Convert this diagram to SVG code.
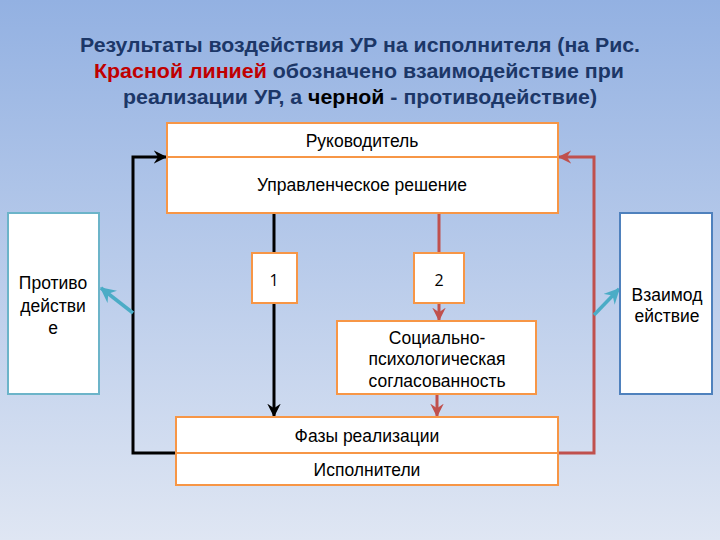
<svg xmlns="http://www.w3.org/2000/svg" width="720" height="540" viewBox="0 0 720 540">
<defs>
<linearGradient id="bg" x1="0" y1="0" x2="0" y2="1">
<stop offset="0" stop-color="#93b1e2"/>
<stop offset="1" stop-color="#dfe6f3"/>
</linearGradient>
<marker id="ab" viewBox="0 0 12 12" refX="11" refY="6" markerWidth="4.5" markerHeight="4.5" orient="auto" markerUnits="strokeWidth">
<path d="M0,0 L12,6 L0,12 L4,6 z" fill="#000"/>
</marker>
<marker id="ar" viewBox="0 0 12 12" refX="11" refY="6" markerWidth="4.5" markerHeight="4.5" orient="auto" markerUnits="strokeWidth">
<path d="M0,0 L12,6 L0,12 L4,6 z" fill="#c0504d"/>
</marker>
<marker id="ac" viewBox="0 0 12 12" refX="11" refY="6" markerWidth="4.5" markerHeight="4.5" orient="auto" markerUnits="strokeWidth">
<path d="M0,0 L12,6 L0,12 L4,6 z" fill="#4bacc6"/>
</marker>
</defs>
<style>
.box{fill:#fff;stroke:#f79646;stroke-width:2}
.t{font-family:"Liberation Sans",Arial,sans-serif;font-size:17.5px;fill:#000;text-anchor:middle}
.n{font-family:"Open Sans","Noto Sans",sans-serif;font-size:16px;fill:#000;text-anchor:middle}
.title{font-family:"Liberation Sans",Arial,sans-serif;font-weight:bold;font-size:21px;fill:#1c3768;text-anchor:middle}
.blk{fill:none;stroke:#000;stroke-width:3}
.red{fill:none;stroke:#c0504d;stroke-width:3}
.cy{fill:none;stroke:#4bacc6;stroke-width:3.5}
</style>
<rect width="720" height="540" fill="url(#bg)"/>
<g id="title">
<text class="title" x="360" y="52" textLength="560" lengthAdjust="spacingAndGlyphs">Результаты воздействия УР на исполнителя (на Рис.</text>
<text class="title" x="359" y="78" textLength="530" lengthAdjust="spacingAndGlyphs"><tspan fill="#c00000">Красной линией</tspan> обозначено взаимодействие при</text>
<text class="title" x="360" y="104" textLength="474" lengthAdjust="spacingAndGlyphs">реализации УР, а <tspan fill="#000">черной</tspan> - противодействие)</text>
</g>
<g id="connectors">
<polyline class="blk" points="176,453 133,453 133,157 166,157" marker-end="url(#ab)"/>
<polyline class="red" points="558,453 594,453 594,157 559,157" marker-end="url(#ar)"/>
<line class="blk" x1="274" y1="213" x2="274" y2="253"/>
<line class="blk" x1="274" y1="303" x2="274" y2="416" marker-end="url(#ab)"/>
<line class="red" x1="439" y1="213" x2="439" y2="253"/>
<line class="red" x1="439" y1="303" x2="439" y2="320" marker-end="url(#ar)"/>
<line class="red" x1="437" y1="394" x2="437" y2="416" marker-end="url(#ar)"/>
<line class="cy" x1="133" y1="313" x2="101" y2="288" marker-end="url(#ac)"/>
<line class="cy" x1="594" y1="315" x2="619" y2="289" marker-end="url(#ac)"/>
</g>
<g id="manager">
<rect class="box" x="167" y="123" width="391" height="90"/>
<line x1="167" y1="157" x2="558" y2="157" stroke="#f79646" stroke-width="2"/>
<text class="t" x="362" y="147">Руководитель</text>
<text class="t" x="362" y="191">Управленческое решение</text>
</g>
<g id="n1">
<rect class="box" x="252" y="253" width="45" height="50"/>
<text class="n" x="274" y="286">1</text>
</g>
<g id="n2">
<rect class="box" x="414" y="253" width="50" height="50"/>
<text class="n" x="439" y="286">2</text>
</g>
<g id="social">
<rect class="box" x="337" y="321" width="199" height="73"/>
<text class="t" x="437" y="344">Социально-</text>
<text class="t" x="437" y="365">психологическая</text>
<text class="t" x="437" y="387">согласованность</text>
</g>
<g id="executors">
<rect class="box" x="176" y="417" width="382" height="68"/>
<line x1="176" y1="453" x2="558" y2="453" stroke="#f79646" stroke-width="2"/>
<text class="t" x="367" y="442">Фазы реализации</text>
<text class="t" x="367" y="476">Исполнители</text>
</g>
<g id="counter">
<rect x="8" y="213" width="91" height="181" fill="#fff" stroke="#6cb4c9" stroke-width="2"/>
<text class="t" x="53" y="289">Противо</text>
<text class="t" x="53" y="312">действи</text>
<text class="t" x="53" y="334">е</text>
</g>
<g id="interact">
<rect x="620" y="213" width="92" height="181" fill="#fff" stroke="#4f81bd" stroke-width="2"/>
<text class="t" x="667" y="301">Взаимод</text>
<text class="t" x="667" y="322">ействие</text>
</g>
</svg>
